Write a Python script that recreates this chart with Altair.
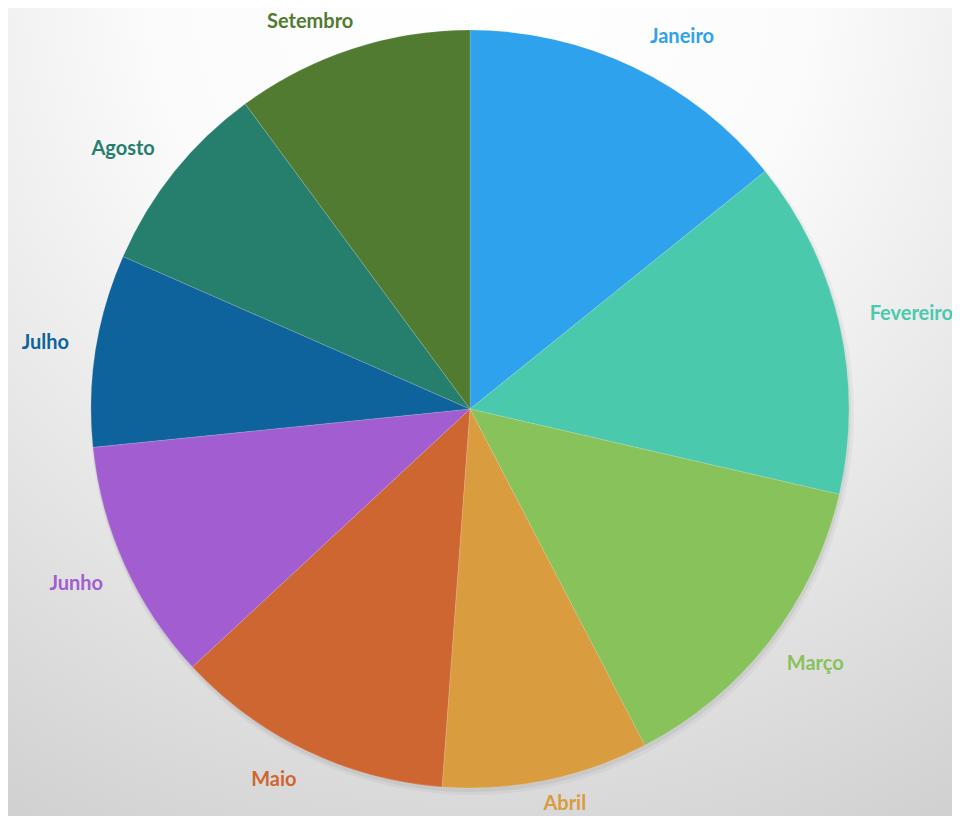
import altair as alt
import pandas as pd

months = ["Janeiro", "Fevereiro", "Março", "Abril", "Maio", "Junho", "Julho", "Agosto", "Setembro"]
values = [14.2, 14.4, 13.75, 8.8, 11.9, 10.3, 8.2, 8.3, 10.1]
colors = ["#2EA2EC", "#4BC9AD", "#87C25A", "#D99C3E", "#CE6632", "#A25ED0", "#0E639C", "#267F6D", "#517B30"]

df = pd.DataFrame({"month": months, "value": values, "idx": list(range(len(months)))})

W, H = 944, 808
CX, CY, R = 462, 401, 379

color_scale = alt.Scale(domain=months, range=colors)

bg = alt.Chart(alt.Data(values=[{"a": 1}])).mark_rect(
    color=alt.Gradient(
        gradient="radial",
        x1=0.5, y1=0.05, r1=0.0,
        x2=0.5, y2=0.05, r2=1.0,
        stops=[alt.GradientStop(color="#FFFFFF", offset=0.0),
               alt.GradientStop(color="#FBFBFB", offset=0.35),
               alt.GradientStop(color="#D1D1D1", offset=1.0)],
    )
).encode(x=alt.value(0), x2=alt.value(W), y=alt.value(0), y2=alt.value(H))

base = alt.Chart(df)

shadow1 = base.mark_arc(outerRadius=R + 3, color="#000000", opacity=0.035).encode(
    theta=alt.Theta("value:Q", stack=True),
    order=alt.Order("idx:Q"),
    x=alt.value(CX + 2),
    y=alt.value(CY + 4),
)
shadow2 = base.mark_arc(outerRadius=R + 1, color="#000000", opacity=0.05).encode(
    theta=alt.Theta("value:Q", stack=True),
    order=alt.Order("idx:Q"),
    x=alt.value(CX + 1),
    y=alt.value(CY + 3),
)

pie = base.mark_arc(outerRadius=R, stroke="#FFFFFF", strokeWidth=0.3, strokeOpacity=0.5).encode(
    theta=alt.Theta("value:Q", stack=True),
    color=alt.Color("month:N", scale=color_scale, legend=None),
    order=alt.Order("idx:Q"),
    x=alt.value(CX),
    y=alt.value(CY),
)

labels = base.transform_joinaggregate(
    total="sum(value)"
).transform_window(
    cum="sum(value)", sort=[alt.SortField("idx")], frame=[None, 0]
).transform_calculate(
    mid="2*PI*(datum.cum - datum.value/2)/datum.total",
).transform_calculate(
    hw="length(datum.month)*5.5",
    ax=f"{CX} + 402*sin(datum.mid)",
    ay=f"{CY} - 402*cos(datum.mid)",
).transform_calculate(
    lx="datum.ax + datum.hw*clamp(2.5*sin(datum.mid), -1, 1)",
    ly=f"clamp(datum.ay - 9*clamp(2.5*cos(datum.mid), -1, 1), 14, {H - 12})",
).mark_text(
    font="Lato", fontWeight="bold", fontSize=20, align="center", baseline="middle"
).encode(
    x=alt.X("lx:Q", scale=None, axis=None),
    y=alt.Y("ly:Q", scale=None, axis=None),
    text="month:N",
    color=alt.Color("month:N", scale=color_scale, legend=None),
)

chart = alt.layer(bg, shadow1, shadow2, pie, labels).properties(
    width=W, height=H,
    autosize=alt.AutoSizeParams(type="fit", contains="padding"),
    padding=0,
).configure_view(stroke=None)

chart.save("out.html", embed_options={"renderer": "svg", "actions": False})
